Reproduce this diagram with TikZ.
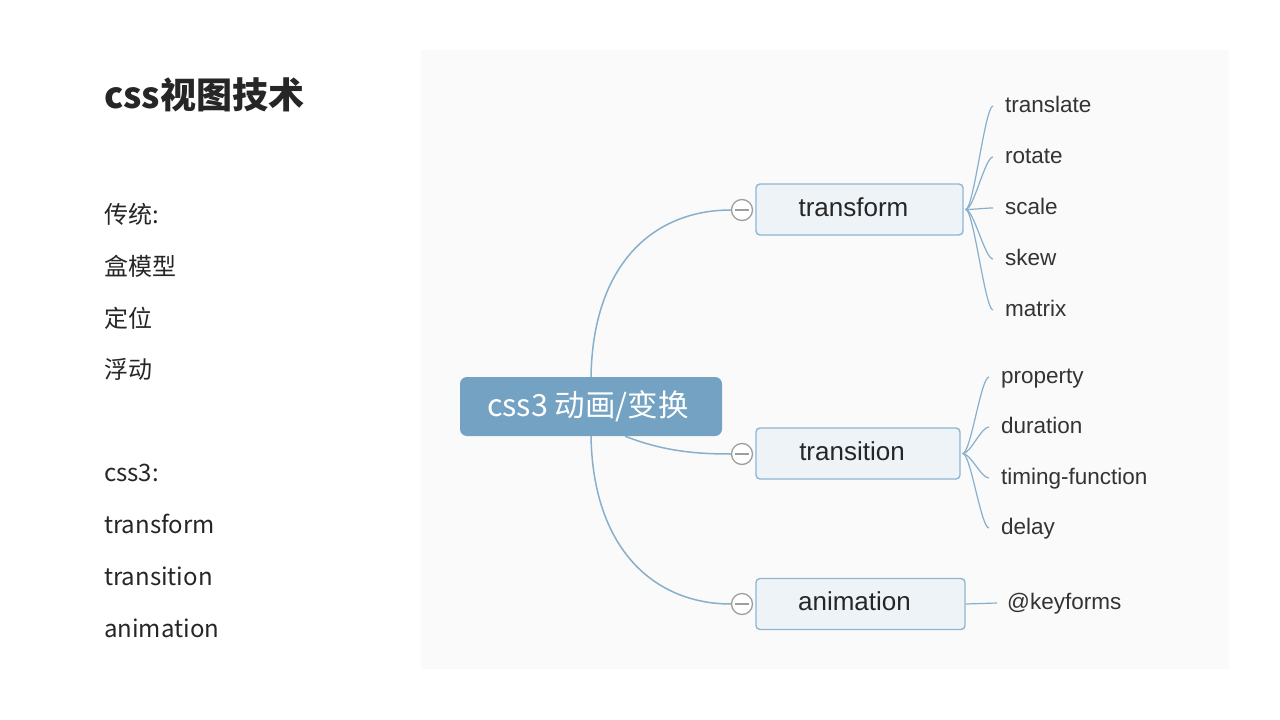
\documentclass[tikz,border=0pt]{standalone}
\usepackage{fontspec}
\setmainfont{Liberation Sans}
\newfontfamily\cjk{Noto Sans CJK SC}
\definecolor{rootfill}{HTML}{73A2C2}
\definecolor{boxfill}{HTML}{EEF3F7}
\definecolor{boxline}{HTML}{8FB6D2}
\definecolor{conn}{HTML}{88AFCB}
\definecolor{panel}{HTML}{FAFAFA}
\definecolor{txt}{HTML}{262626}
\definecolor{leaftxt}{HTML}{333333}
\definecolor{circline}{HTML}{9E9E9E}
\begin{document}
\begin{tikzpicture}[x=1pt,y=-1pt,
  titletext/.style={anchor=base west,inner sep=0,text=txt,font={\cjk\bfseries\fontsize{36}{40}\selectfont}},
  listtext/.style={anchor=base west,inner sep=0,text=txt,font={\cjk\fontsize{24}{28}\selectfont}},
  rootbox/.style={fill=rootfill,rounded corners=7pt,minimum width=262pt,minimum height=59pt,inner sep=0,
    text=white,font={\cjk\fontsize{30.5}{34}\selectfont},text height=26pt,text depth=6pt},
  branchbox/.style={draw=boxline,line width=1.4pt,fill=boxfill,rounded corners=4pt,minimum height=51pt,inner sep=0,
    text=txt,font={\fontsize{26}{30}\selectfont},text height=19pt,text depth=6pt},
  togglecirc/.style={circle,draw=circline,line width=1.3pt,fill=white,minimum size=21pt,inner sep=0},
  leaftext/.style={anchor=west,inner sep=0,text=leaftxt,font={\fontsize{22.5}{26}\selectfont},text height=17pt,text depth=5pt},
  link/.style={draw=conn,line width=1.5pt},
  leaflink/.style={draw=conn,line width=1.2pt}
]
\useasboundingbox (0,0) rectangle (1280,720);
\fill[white] (0,0) rectangle (1280,720);
\fill[panel] (421,50) rectangle (1229,669);

% left column
\node[titletext] (title) at (104,108) {css视图技术};
\node[listtext] (a1) at (104,223) {传统:};
\node[listtext] (a2) at (104,275) {盒模型};
\node[listtext] (a3) at (104,327) {定位};
\node[listtext] (a4) at (104,378) {浮动};
\node[listtext] (b1) at (104,481) {css3:};
\node[listtext] (b2) at (104,533) {transform};
\node[listtext] (b3) at (104,585) {transition};
\node[listtext] (b4) at (104,637) {animation};

% mind map
\node[rootbox] (root) at (591,406.5) {\hspace*{-6pt}css3 动画/变换};

\node[branchbox,minimum width=207pt] (tf) at (859.5,209.5) {\hspace*{-12pt}transform};
\node[branchbox,minimum width=204pt] (tn) at (858,453.5) {\hspace*{-12pt}transition};
\node[branchbox,minimum width=209pt] (an) at (860.5,604) {\hspace*{-12pt}animation};

\path[link] (root.north) .. controls (593,262) and (655,210) .. (731,210);
\path[link] (root.-41) .. controls (665,452) and (700,454) .. (731,454);
\path[link] (root.south) .. controls (593,550) and (655,604) .. (731,604);

\node[togglecirc] (c1) at (742,210) {};
\node[togglecirc] (c2) at (742,454) {};
\node[togglecirc] (c3) at (742,604) {};
\foreach \c in {c1,c2,c3}
  \draw[circline,line width=1.3pt] ([xshift=4pt]\c.west) -- ([xshift=-4pt]\c.east);

% transform leaves
\node[leaftext] (t1) at (1005,106) {translate};
\node[leaftext] (t2) at (1005,157) {rotate};
\node[leaftext] (t3) at (1005,208) {scale};
\node[leaftext] (t4) at (1005,259) {skew};
\node[leaftext] (t5) at (1005,310) {matrix};
\foreach \l in {t1,t2,t3,t4,t5}
  \path[leaflink] ([xshift=2pt]tf.east) .. controls +(8,0) and +(-8,0) .. ([xshift=-12pt]\l.west);

% transition leaves
\node[leaftext] (p1) at (1001,377) {property};
\node[leaftext] (p2) at (1001,427) {duration};
\node[leaftext] (p3) at (1001,478) {timing-function};
\node[leaftext] (p4) at (1001,528) {delay};
\foreach \l in {p1,p2,p3,p4}
  \path[leaflink] ([xshift=2pt]tn.east) .. controls +(8,0) and +(-8,0) .. ([xshift=-12pt]\l.west);

% animation leaf
\node[leaftext] (k1) at (1007,603) {@keyforms};
\path[leaflink] (an.east) -- ([xshift=-10pt]k1.west);
\end{tikzpicture}
\end{document}
